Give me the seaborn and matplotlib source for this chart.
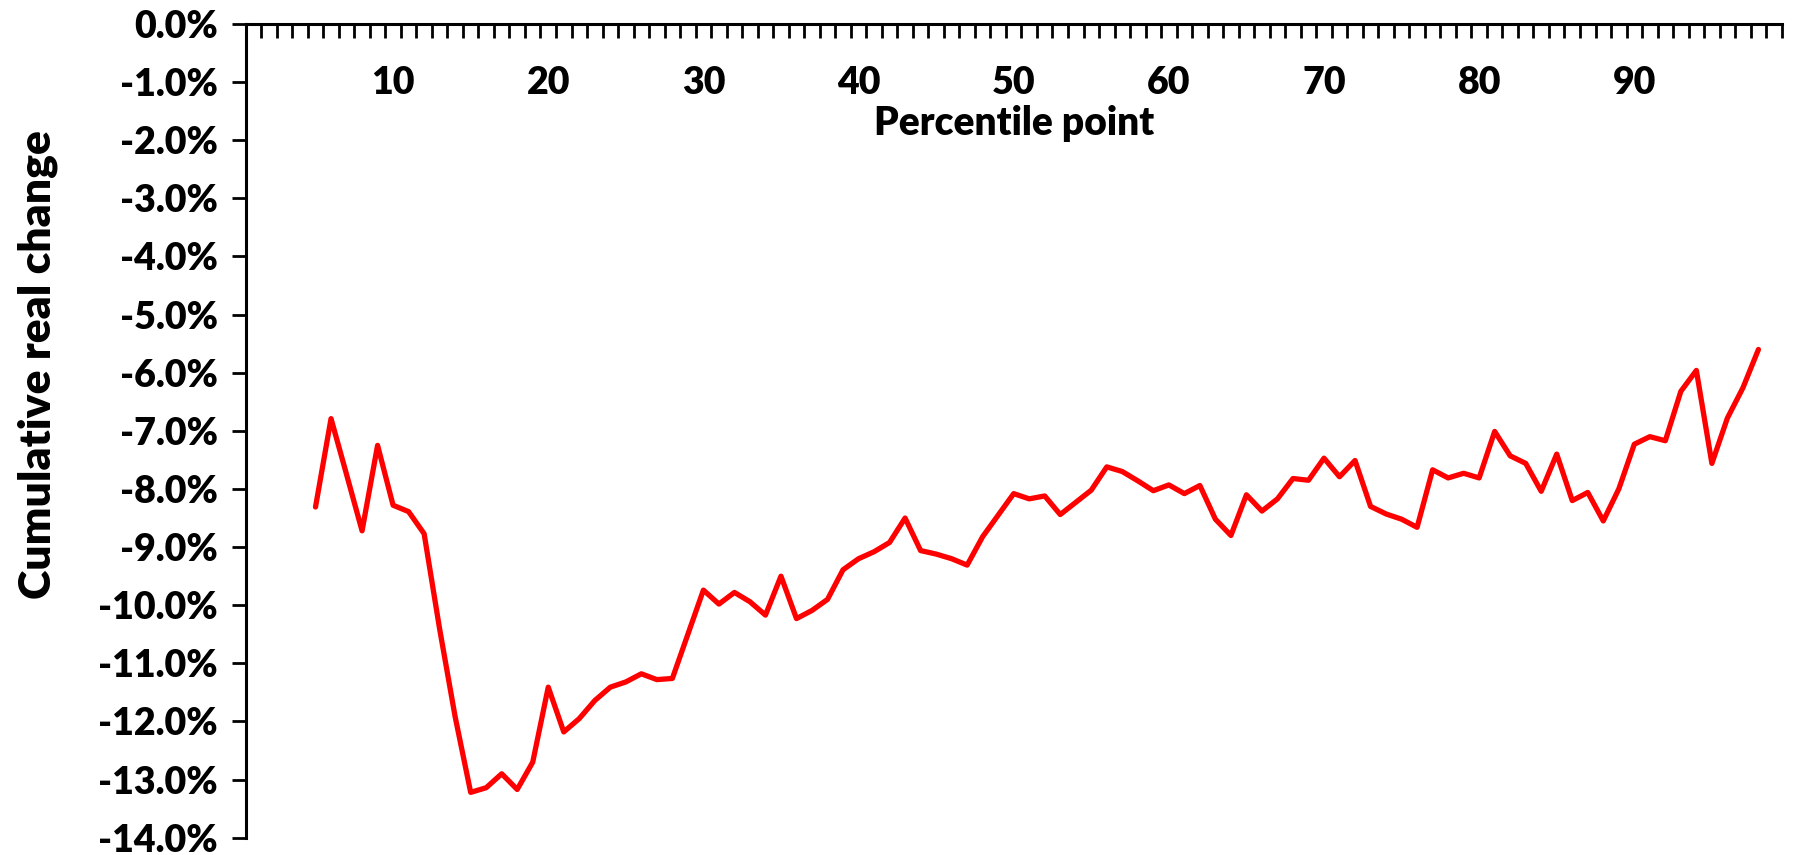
import numpy as np
import pandas as pd
import matplotlib
matplotlib.use("Agg")
import matplotlib.pyplot as plt
import seaborn as sns
from matplotlib.ticker import FixedLocator, FuncFormatter

# ------------------------------------------
# Data
# ------------------------------------------
percentile = list(range(5, 99))
real_change = [
    -8.31, -6.79, -7.75, -8.72, -7.25, -8.28, -8.39, -8.77, -10.41, -11.92,
    -13.22, -13.14, -12.90, -13.17, -12.70, -11.41, -12.18, -11.95, -11.64, -11.41,
    -11.32, -11.18, -11.28, -11.26, -10.50, -9.74, -9.98, -9.78, -9.94, -10.17,
    -9.50, -10.23, -10.09, -9.90, -9.39, -9.20, -9.08, -8.92, -8.50, -9.06,
    -9.12, -9.20, -9.31, -8.82, -8.45, -8.08, -8.17, -8.12, -8.44, -8.23,
    -8.02, -7.62, -7.70, -7.86, -8.03, -7.93, -8.08, -7.94, -8.52, -8.80,
    -8.10, -8.38, -8.17, -7.82, -7.85, -7.47, -7.79, -7.51, -8.30, -8.43,
    -8.52, -8.66, -7.67, -7.81, -7.73, -7.81, -7.01, -7.43, -7.56, -8.04,
    -7.40, -8.20, -8.06, -8.55, -8.00, -7.23, -7.10, -7.17, -6.32, -5.96,
    -7.56, -6.78, -6.26, -5.60,
]
x_labels = ["10", "20", "30", "40", "50", "60", "70", "80", "90"]
x_label_pos = [10, 20, 30, 40, 50, 60, 70, 80, 90]
y_ticks = list(range(0, -15, -1))

df = pd.DataFrame({"Percentile point": percentile, "Cumulative real change": real_change})

sns.set_theme(style="white")
plt.rcParams["font.family"] = ["Lato", "DejaVu Sans"]
plt.rcParams["font.weight"] = "heavy"
plt.rcParams["text.color"] = "black"
plt.rcParams["axes.labelcolor"] = "black"
plt.rcParams["xtick.color"] = "black"
plt.rcParams["ytick.color"] = "black"

fig = plt.figure(figsize=(17.95, 8.55), dpi=100)
ax = fig.add_axes([245.7 / 1795, 17.3 / 855, 1536 / 1795, 813.7 / 855])

sns.lineplot(data=df, x="Percentile point", y="Cumulative real change",
             color="#FF0000", linewidth=3.8, ax=ax)

ax.set_xlim(0.5, 99.5)
ax.set_ylim(-14, 0)

# x axis sits at y = 0 (top of the plot)
ax.spines["bottom"].set_position(("data", 0))
ax.spines["top"].set_visible(False)
ax.spines["right"].set_visible(False)
for s in ["bottom", "left"]:
    ax.spines[s].set_linewidth(2.2)
    ax.spines[s].set_color("black")

ax.xaxis.set_major_locator(FixedLocator(x_label_pos))
ax.set_xticklabels(x_labels)
ax.xaxis.set_minor_locator(FixedLocator(np.arange(0.5, 100, 1.0)))
ax.tick_params(axis="x", which="major", bottom=True, length=0, pad=30,
               labelsize=27, labelcolor="black")
ax.tick_params(axis="x", which="minor", bottom=True, length=10, width=2.0,
               direction="out", color="black")

ax.set_yticks(y_ticks)
ax.yaxis.set_major_formatter(FuncFormatter(lambda v, p: f"{v:.1f}%"))
ax.tick_params(axis="y", which="major", left=True, length=10, width=2.0, direction="out",
               color="black", pad=10, labelsize=27, labelcolor="black")

ax.set_xlabel("Percentile point", fontsize=28, fontweight="heavy", labelpad=4, color="black")
ax.set_ylabel("Cumulative real change", fontsize=32, fontweight="heavy", color="black")
ax.yaxis.set_label_coords(-0.122, 0.582)

ax.grid(False)
fig.savefig("out.png", dpi=100)
